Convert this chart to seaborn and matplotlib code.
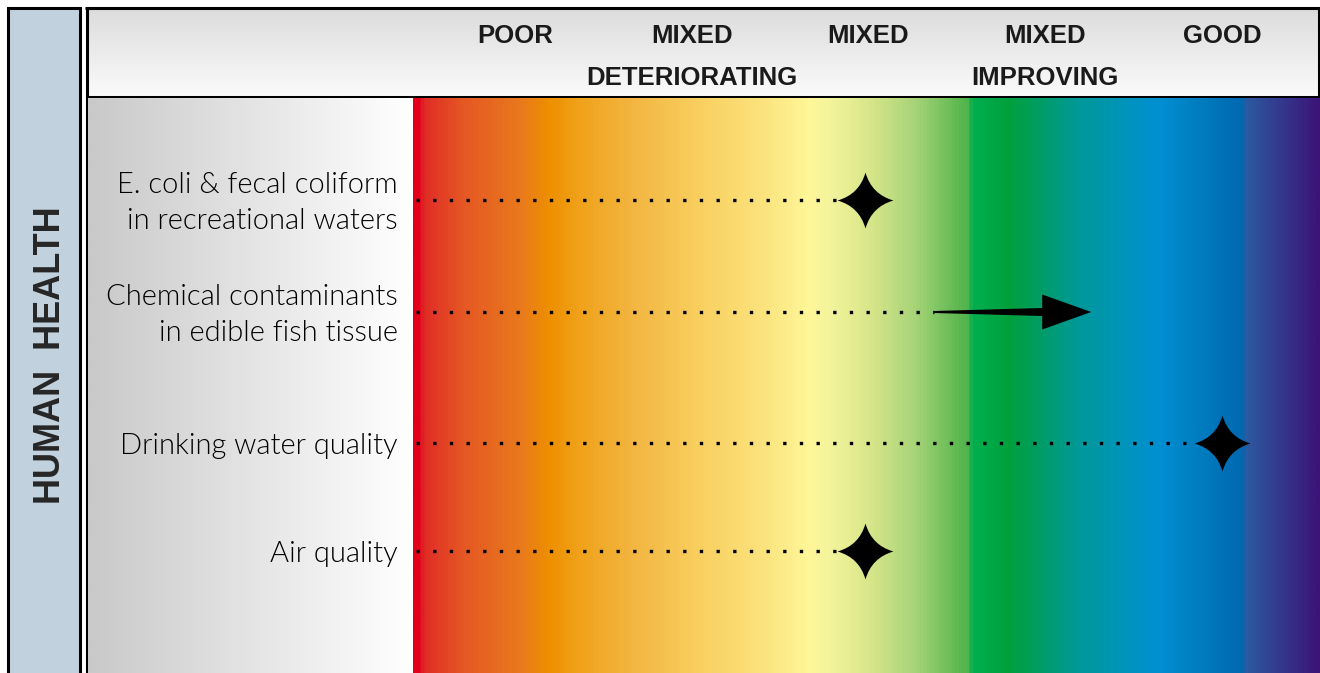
import numpy as np
import matplotlib
matplotlib.use("Agg")
import matplotlib.pyplot as plt
from matplotlib import font_manager as fm
from matplotlib.colors import LinearSegmentedColormap
from matplotlib.path import Path
from matplotlib.patches import Rectangle
import seaborn as sns

# data
categories = ["POOR", "MIXED\nDETERIORATING", "MIXED", "MIXED\nIMPROVING", "GOOD"]
indicators = ["E. coli & fecal coliform\nin recreational waters",
              "Chemical contaminants\nin edible fish tissue",
              "Drinking water quality",
              "Air quality"]
status = [1.98, 2.37, 4.0, 1.98]
trend_end = [None, 3.26, None, None]
section = "HUMAN  HEALTH"

# layout (pixels)
W, H = 1320, 673
row_y = [200, 312, 443, 551]
cat_x0, cat_dx = 515, 176.75
label_edge, body_top, body_left = 413, 98, 88


def px2x(p):
    return (p - cat_x0) / cat_dx


sns.set_theme(style="white")
plt.rcParams["font.family"] = ["Lato", "DejaVu Sans"]

names = {f.name for f in fm.fontManager.ttflist}
if "Liberation Sans Narrow" in names:
    narrow, hdr_size, side_size = ["Liberation Sans Narrow", "DejaVu Sans"], 21.5, 31
else:
    narrow, hdr_size, side_size = ["Liberation Sans", "DejaVu Sans"], 18.5, 26

fig = plt.figure(figsize=(W / 100, H / 100), dpi=100)

# background axes in pixel units
bg = fig.add_axes([0, 0, 1, 1])
bg.set_xlim(0, W)
bg.set_ylim(H, 0)
bg.axis("off")

bg.add_patch(Rectangle((7.5, 8), 72.5, 700, facecolor="#c1d1de",
                       edgecolor="black", lw=2.2))
bg.text(51, 355, section, rotation=90, ha="center", va="center",
        fontsize=side_size, fontweight="bold", family=narrow)

hgrad = np.linspace(0, 1, 100).reshape(-1, 1)
hcmap = LinearSegmentedColormap.from_list("hdr", ["#dcdcdc", "#fbfbfb"])
bg.imshow(hgrad, cmap=hcmap, extent=(87, W, body_top, 8), aspect="auto")
bg.plot([85, W], [8, 8], color="black", lw=2.2, solid_capstyle="butt")
bg.plot([86.5, 86.5], [8, H], color="black", lw=2.2, solid_capstyle="butt")
bg.plot([86, W], [97, 97], color="black", lw=2.2, solid_capstyle="butt")
bg.plot([1318.5, 1318.5], [8, 97], color="black", lw=2.2, solid_capstyle="butt")

# body axes: x in category units, y in pixels
ax = fig.add_axes([body_left / W, 0, (W - body_left) / W, (H - body_top) / H])
xl, xr = px2x(body_left), px2x(W)

grad = np.linspace(0, 1, 600).reshape(1, -1)
gcmap = LinearSegmentedColormap.from_list("gray", ["#c9c9c9", "#ffffff"])
ax.imshow(grad, cmap=gcmap, extent=(xl, px2x(label_edge), H, body_top), aspect="auto")

stops_px = [413, 418, 421, 460, 520, 548, 575, 630, 700, 760, 810, 830, 870,
            915, 960, 970, 972, 1010, 1080, 1160, 1200, 1244, 1248, 1320]
stops_col = ["#e2001a", "#e2001a", "#e02a26", "#e55624", "#e97a1c", "#ee8f00",
             "#f0a118", "#f3b540", "#f9d060", "#fbe27c", "#fff799", "#f3f49c",
             "#d8e68a", "#a8d478", "#5cb850", "#4cb44e", "#00b050", "#00a03c",
             "#00999a", "#0090d2", "#007dc0", "#0068b0", "#2c5aa0", "#3c1478"]
pos = [(p - 413) / (W - 413) for p in stops_px]
rcmap = LinearSegmentedColormap.from_list("rb", list(zip(pos, stops_col)))
ax.imshow(np.linspace(0, 1, 1200).reshape(1, -1), cmap=rcmap,
          extent=(px2x(label_edge), xr, H, body_top), aspect="auto")

# header categories
for i, c in enumerate(categories):
    ax.text(i, 24, c, ha="center", va="top", fontsize=hdr_size, fontweight="bold",
            family=narrow, linespacing=1.95, color="#1a1a1a", clip_on=False)

# rows
for y, name, s, e in zip(row_y, indicators, status, trend_end):
    ax.text(px2x(398), y + 3, name, ha="right", va="center", fontsize=21,
            fontweight=300, color="black", linespacing=1.5,
            multialignment="right")
    ax.plot([px2x(416), s], [y, y], color="black", lw=2.4,
            linestyle=(0, (1, 4)), dash_capstyle="butt")
    if e is not None:
        base = e - 49 / cat_dx
        xs = [s, base, base, e, base, base, s]
        ys = [y - 1, y - 4, y - 17.5, y, y + 17.5, y + 4, y + 1]
        ax.fill(xs, ys, color="black", lw=0)

c = 0.22
star = Path([(0, 1), (c, c), (1, 0), (c, -c), (0, -1), (-c, -c), (-1, 0), (-c, c), (0, 1)],
            [Path.MOVETO] + [Path.CURVE3] * 8)
stars = [(s, y) for s, y, e in zip(status, row_y, trend_end) if e is None]
sns.scatterplot(x=[p[0] for p in stars], y=[p[1] for p in stars], ax=ax,
                marker=star, s=1620, color="black", linewidth=0, zorder=5)
ax.set_xlim(xl, xr)
ax.set_ylim(H, body_top)
ax.axis("off")

fig.savefig("out.png", dpi=100)
